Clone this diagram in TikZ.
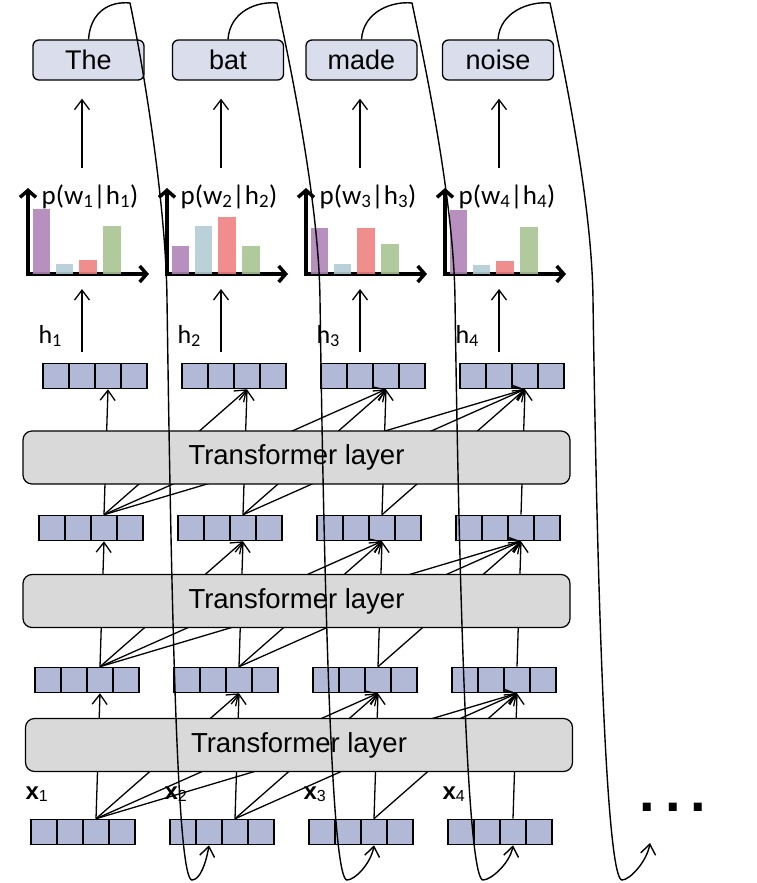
\documentclass[tikz,border=0pt]{standalone}
\usepackage{fontspec}
\setmainfont{Liberation Sans}
\newfontfamily\probfont{Carlito}
\usetikzlibrary{arrows.meta,calc,positioning}
\definecolor{cellblue}{RGB}{178,185,214}
\definecolor{wordgray}{RGB}{218,221,235}
\definecolor{layergray}{RGB}{217,217,217}
\definecolor{barpurple}{RGB}{176,132,184}
\definecolor{barblue}{RGB}{178,204,214}
\definecolor{barred}{RGB}{238,130,130}
\definecolor{bargreen}{RGB}{168,196,146}

\begin{document}
\begin{tikzpicture}
  [x=1pt,y=-1pt,
   cell/.style={draw,fill=cellblue,line width=1.6pt,minimum width=26pt,minimum height=25pt,inner sep=0pt},
   layerN/.style={draw,fill=layergray,rounded corners=9pt,line width=1.2pt,minimum width=547pt,minimum height=53pt,font=\fontsize{27.5}{30}\selectfont},
   wordN/.style={draw,fill=wordgray,rounded corners=6pt,line width=1.3pt,minimum width=111pt,minimum height=40pt,font=\fontsize{27}{30}\selectfont},
   link/.style={line width=1.3pt,-{Straight Barb[length=10pt,width=15pt]}},
   axis/.style={line width=3.5pt,{Straight Barb[length=7pt,width=16pt]}-{Straight Barb[length=7pt,width=16pt]}},
   loopback/.style={line width=1.4pt,-{Straight Barb[length=10pt,width=15pt]}}]

  \useasboundingbox (0,0) rectangle (756,883);

  % vectors: h = output, u/v = hidden, x = input
  \foreach \rw/\lx/\ry in {h/43/376,u/39/528,v/35/680,x/31/832}
    \foreach \col in {1,...,4}
      \foreach \k in {1,...,4}
        \node[cell] (\rw\col-\k) at ({\lx+139*(\col-1)+26*\k-13},\ry) {};

  % attention links (hidden behind the layers)
  \foreach \lw/\hi in {x/v,v/u,u/h}
    \foreach \j in {1,...,4}
      \foreach \k in {\j,...,4}
        \draw[link] (\lw\j-3.north) -- (\hi\k-3.south);

  \node[layerN] (tl1) at (296.5,457.5) {Transformer layer};
  \node[layerN] (tl2) at (296.5,601) {Transformer layer};
  \node[layerN] (tl3) at (299,745) {Transformer layer};

  \foreach \col/\wx/\word/\ba/\bb/\bc/\bd
      [evaluate=\col as \cx using {82+139*(\col-1)}] in
      {1/88.5/The/65/10/14/48, 2/228/bat/28/48/57/28,
       3/361.5/made/46/10/46/30, 4/498/noise/64/9/13/47}{
    \node[wordN] (w\col) at (\wx,60) {\word};
    \coordinate (o\col) at (\cx-54,274);

    \draw[axis] ($(o\col)+(0,-86)$) -- (o\col) -- ($(o\col)+(121,0)$);
    \fill[barpurple,opacity=0.9] ($(o\col)+(4.5,0)$) rectangle +(17.5,-\ba);
    \fill[barblue,opacity=0.9] ($(o\col)+(27.5,0)$) rectangle +(17.5,-\bb);
    \fill[barred,opacity=0.9] ($(o\col)+(51,0)$) rectangle +(17.5,-\bc);
    \fill[bargreen,opacity=0.9] ($(o\col)+(75,0)$) rectangle +(17.5,-\bd);

    \node[anchor=base,font=\probfont\fontsize{27}{29}\selectfont] (p\col)
      at ($(o\col)+(62,-70)$) {p(w\textsubscript{\col}|h\textsubscript{\col})};
    \node[anchor=base west,font=\probfont\fontsize{26}{28}\selectfont] (hl\col)
      at (\cx-47,343) {h\textsubscript{\col}};
    \node[anchor=base west,font=\fontsize{24}{26}\selectfont] (xl\col)
      at (\cx-60,799) {\textbf{x}\raisebox{-2pt}{\fontsize{16}{16}\selectfont\col}};

    \draw[link,shorten <=11pt,shorten >=15pt] (h\col-2.north) -- (h\col-2.north |- o\col);
    \draw[link,shorten <=13pt,shorten >=18pt] (h\col-2 |- p\col.north) -- (h\col-2 |- w\col.south);
  }

  \node[anchor=base,font=\bfseries\fontsize{56}{56}\selectfont] (dots) at (673,811)
    {.\hspace{10pt}.\hspace{10pt}.};
  \coordinate (more) at (650,843);

  % generated word fed back as next input
  \foreach \st/\pk/\md/\bt/\dst in {w1/130/167/192/x2-2.south, w2/277/320/347/x3-3.south,
                                    w3/412/455/483/x4-3.south, w4/550/593/622/more}
    \draw[loopback] (\st.north) .. controls +(2,-28) and +(-20,-2) .. (\pk,3)
      .. controls +(12,57) and +(-1,-100) .. (\md,300)
      .. controls +(5,350) and +(-14,0) .. (\bt,880)
      .. controls +(8,0) and +(-3,18) .. (\dst);

\end{tikzpicture}
\end{document}
